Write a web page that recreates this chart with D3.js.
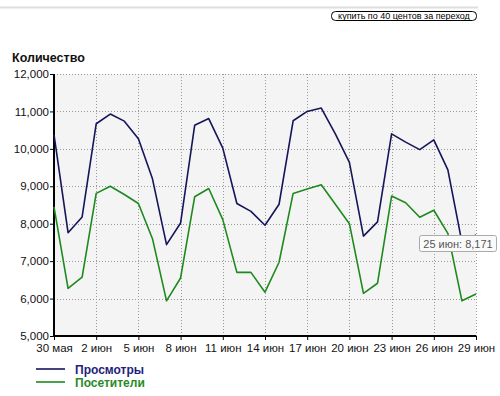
<!DOCTYPE html>
<html><head><meta charset="utf-8">
<script src="https://cdn.jsdelivr.net/npm/d3@7"></script>
<style>
body{margin:0;background:#fff;}
svg{display:block;font-family:"Liberation Sans",Arial,sans-serif;}
</style></head>
<body><svg id="c" width="500" height="396"></svg>
<script>
const dates = ["30 мая","31 мая","1 июн","2 июн","3 июн","4 июн","5 июн","6 июн","7 июн","8 июн","9 июн","10 июн","11 июн","12 июн","13 июн","14 июн","15 июн","16 июн","17 июн","18 июн","19 июн","20 июн","21 июн","22 июн","23 июн","24 июн","25 июн","26 июн","27 июн","28 июн","29 июн"];
const views = [10380,7760,8180,10670,10930,10740,10270,9200,7440,8020,10630,10810,10020,8540,8330,7960,8520,10750,11000,11090,10400,9640,7670,8050,10400,10180,9980,10240,9440,7500,7700];
const visitors = [8450,6270,6570,8810,9000,8780,8540,7600,5940,6550,8720,8940,8110,6700,6700,6170,6970,8810,8930,9040,8520,8000,6140,6410,8740,8560,8171,8360,7740,5940,6120];
const xTickLabels = ["30 мая","2 июн","5 июн","8 июн","11 июн","14 июн","17 июн","20 июн","23 июн","26 июн","29 июн"];
const yTicks = [5000,6000,7000,8000,9000,10000,11000,12000];
const seriesNames = ["Просмотры","Посетители"];
const tooltipDate = "25 июн", tooltipValue = 8171;

const svg = d3.select("#c");
const L=54, R=476, T=74, B=336;
const x = d3.scalePoint().domain(dates).range([L,R]);
const y = d3.scaleLinear().domain([5000,12000]).range([B,T]);
const fmt = d3.format(",");

// top separator
svg.append("line").attr("x1",0).attr("x2",478).attr("y1",7.5).attr("y2",7.5).attr("stroke","#ddd").attr("stroke-width",2);
// button
svg.append("rect").attr("x",331.5).attr("y",11.5).attr("width",145).attr("height",9).attr("rx",4).attr("fill","#fff").attr("stroke","#000");
svg.append("text").attr("x",404).attr("y",19).attr("text-anchor","middle").attr("font-size",9).attr("text-decoration","underline").attr("fill","#000").text("купить по 40 центов за переход");

// title
svg.append("text").attr("x",12).attr("y",62).attr("font-size",12.5).attr("font-weight","bold").attr("fill","#111").text("Количество");

// plot bg
svg.append("rect").attr("x",L).attr("y",T).attr("width",R-L).attr("height",B-T).attr("fill","#f4f4f4");

// grid
svg.append("g").selectAll("line").data(yTicks.slice(1)).join("line")
  .attr("x1",L).attr("x2",R).attr("y1",d=>Math.round(y(d))+0.5).attr("y2",d=>Math.round(y(d))+0.5)
  .attr("stroke","#999").attr("stroke-dasharray","1,2");
svg.append("g").selectAll("line").data(xTickLabels.slice(1)).join("line")
  .attr("y1",T).attr("y2",B).attr("x1",d=>Math.round(x(d))+0.5).attr("x2",d=>Math.round(x(d))+0.5)
  .attr("stroke","#999").attr("stroke-dasharray","1,2");

// axes
const ya = svg.append("g").attr("transform",`translate(${L},0)`)
  .call(d3.axisLeft(y).tickValues(yTicks).tickFormat(fmt).tickSize(4).tickPadding(1));
const xa = svg.append("g").attr("transform",`translate(0,${B})`)
  .call(d3.axisBottom(x).tickValues(xTickLabels).tickSize(4).tickPadding(4));
[ya,xa].forEach(a=>{
  a.select(".domain").attr("stroke","#000").attr("stroke-width",2);
  a.selectAll(".tick line").attr("stroke","#000");
  a.selectAll("text").attr("font-size",11.5).attr("fill","#111").attr("font-family","'Liberation Sans',Arial,sans-serif");
});
ya.select(".domain").attr("d",`M0,${T}V${B+1}`);
xa.select(".domain").attr("d",`M${L-1},0H${R}`);

// lines
const line = d3.line().x((d,i)=>x(dates[i])).y(d=>y(d));
svg.append("path").datum(visitors).attr("d",line).attr("fill","none").attr("stroke","#1e8a1e").attr("stroke-width",1.6).attr("stroke-linejoin","round");
svg.append("path").datum(views).attr("d",line).attr("fill","none").attr("stroke","#15155a").attr("stroke-width",1.6).attr("stroke-linejoin","round");

// tooltip
const tg = svg.append("g");
tg.append("rect").attr("x",419.5).attr("y",235.5).attr("width",77).attr("height",16).attr("rx",2).attr("fill","#fafafa").attr("stroke","#aaa");
tg.append("text").attr("x",458).attr("y",247.5).attr("text-anchor","middle").attr("font-size",11).attr("fill","#555").text(`${tooltipDate}: ${fmt(tooltipValue)}`);

// legend
const lc = ["#15155a","#1e8a1e"];
const lg = svg.append("g").selectAll("g").data(seriesNames).join("g").attr("transform",(d,i)=>`translate(0,${369+i*13})`);
lg.append("line").attr("x1",36).attr("x2",65).attr("stroke",(d,i)=>lc[i]).attr("stroke-width",1.6);
lg.append("text").attr("x",75).attr("y",5).attr("font-size",12).attr("font-weight","bold").attr("fill",(d,i)=>i?"#2a8a2a":"#1f1f7a").text(d=>d);
</script></body></html>
